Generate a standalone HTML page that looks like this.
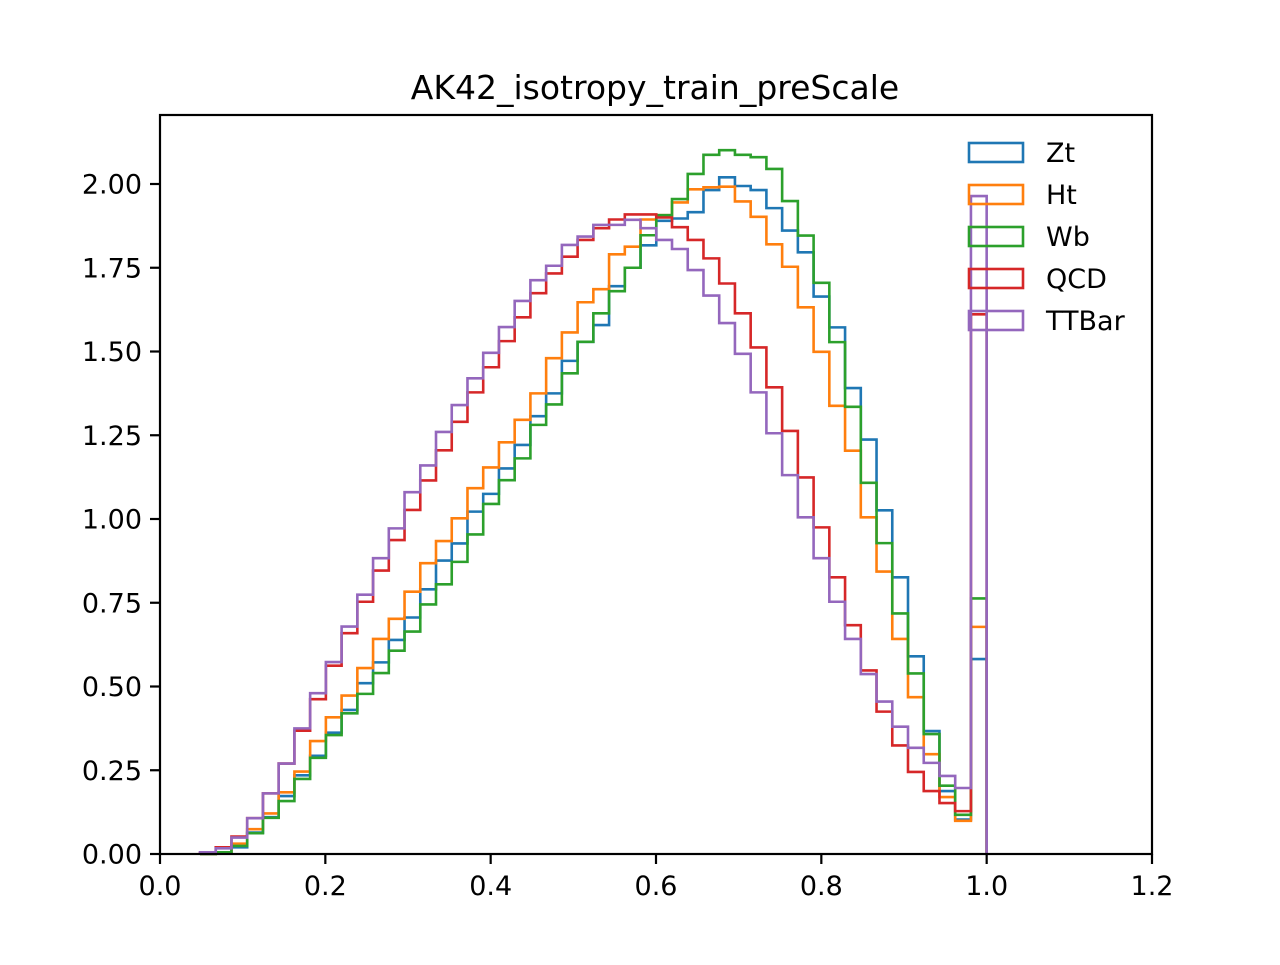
<!DOCTYPE html>
<html><head><meta charset="utf-8"><style>
body{margin:0;background:#fff;}
svg text{font-family:"DejaVu Sans","Liberation Sans",sans-serif;fill:#000;}
</style></head><body>
<svg id="chart" width="1280" height="960" viewBox="0 0 1280 960" xmlns="http://www.w3.org/2000/svg">
<rect x="0" y="0" width="1280" height="960" fill="#fff"/>
<text x="655" y="99" font-size="33" text-anchor="middle">AK42_isotropy_train_preScale</text>
<g id="plot"></g>
<g id="axes"></g>
<g id="legend"></g>
</svg>
<script>
const binLo = 0.0484, binHi = 1.0, nBins = 50;
const seriesNames = ["Zt","Ht","Wb","QCD","TTBar"];
const xTicks = [0.0,0.2,0.4,0.6,0.8,1.0,1.2];
const xTickLabels = ["0.0","0.2","0.4","0.6","0.8","1.0","1.2"];
const yTicks = [0,0.25,0.5,0.75,1.0,1.25,1.5,1.75,2.0];
const yTickLabels = ["0.00","0.25","0.50","0.75","1.00","1.25","1.50","1.75","2.00"];
const ztValues = [0,0.005,0.02,0.064,0.11,0.173,0.235,0.293,0.362,0.430,0.510,0.572,0.639,0.706,0.79,0.876,0.927,1.022,1.075,1.151,1.221,1.307,1.375,1.472,1.529,1.579,1.695,1.75,1.817,1.89,1.897,1.916,1.982,2.02,1.994,1.982,1.928,1.861,1.796,1.664,1.572,1.391,1.237,1.026,0.826,0.59,0.367,0.188,0.103,0.582];
const htValues = [0,0.005,0.031,0.074,0.121,0.184,0.246,0.337,0.408,0.473,0.555,0.642,0.702,0.783,0.868,0.934,1.002,1.092,1.154,1.229,1.296,1.375,1.48,1.557,1.647,1.686,1.79,1.813,1.894,1.907,1.945,1.984,1.99,1.992,1.948,1.902,1.82,1.753,1.632,1.499,1.338,1.204,1.005,0.843,0.642,0.468,0.298,0.17,0.099,0.678];
const wbValues = [0,0.005,0.024,0.062,0.108,0.158,0.224,0.287,0.355,0.420,0.478,0.540,0.607,0.664,0.745,0.805,0.872,0.954,1.045,1.116,1.181,1.281,1.342,1.435,1.529,1.614,1.68,1.75,1.847,1.907,1.955,2.03,2.087,2.101,2.087,2.08,2.045,1.949,1.846,1.705,1.528,1.335,1.108,0.928,0.718,0.539,0.358,0.204,0.117,0.763];
const qcdValues = [0.003,0.02,0.052,0.107,0.181,0.27,0.368,0.462,0.562,0.659,0.753,0.846,0.937,1.027,1.115,1.205,1.29,1.378,1.453,1.531,1.602,1.674,1.733,1.783,1.833,1.868,1.894,1.909,1.909,1.90,1.871,1.833,1.778,1.703,1.614,1.512,1.393,1.263,1.124,0.975,0.826,0.683,0.548,0.425,0.324,0.245,0.188,0.152,0.128,1.611];
const ttbarValues = [0.005,0.017,0.049,0.107,0.181,0.27,0.375,0.480,0.573,0.679,0.774,0.883,0.972,1.08,1.16,1.26,1.34,1.42,1.496,1.573,1.651,1.713,1.756,1.818,1.843,1.878,1.878,1.893,1.868,1.833,1.806,1.743,1.667,1.585,1.493,1.378,1.256,1.131,1.005,0.883,0.753,0.642,0.537,0.455,0.38,0.317,0.272,0.233,0.197,1.964];
const allSeries = [ztValues,htValues,wbValues,qcdValues,ttbarValues];
const colors = ["#1f77b4","#ff7f0e","#2ca02c","#d62728","#9467bd"];

const L=160,R=1152,T=115,B=854;
const xMin=0,xMax=1.2,yMin=0,yMax=(B-T)/335;
function xs(v){return L+(v-xMin)/(xMax-xMin)*(R-L);}
function ys(v){return B-(v-yMin)/(yMax-yMin)*(B-T);}
const NS="http://www.w3.org/2000/svg";
const plot=document.getElementById('plot');
const axes=document.getElementById('axes');
const legend=document.getElementById('legend');

allSeries.forEach((vals,si)=>{
  const w=(binHi-binLo)/nBins;
  let d="M"+xs(binLo)+","+ys(0);
  vals.forEach((v,i)=>{
    const x0=xs(binLo+i*w),x1=xs(binLo+(i+1)*w);
    d+=" L"+x0+","+ys(v)+" L"+x1+","+ys(v);
  });
  d+=" L"+xs(binHi)+","+ys(0);
  const p=document.createElementNS(NS,'path');
  p.setAttribute('d',d);
  p.setAttribute('fill','none');
  p.setAttribute('stroke',colors[si]);
  p.setAttribute('stroke-width','2.6');
  
  
  plot.appendChild(p);
});

const frame=document.createElementNS(NS,'rect');
frame.setAttribute('x',L);frame.setAttribute('y',T);
frame.setAttribute('width',R-L);frame.setAttribute('height',B-T);
frame.setAttribute('fill','none');frame.setAttribute('stroke','#000');frame.setAttribute('stroke-width','2.2');


axes.appendChild(frame);

xTicks.forEach((t,i)=>{
  const x=xs(t);
  const ln=document.createElementNS(NS,'line');
  ln.setAttribute('x1',x);ln.setAttribute('x2',x);ln.setAttribute('y1',B);ln.setAttribute('y2',B+10);
  ln.setAttribute('stroke','#000');ln.setAttribute('stroke-width','2.2');
  
  
  axes.appendChild(ln);
  const tx=document.createElementNS(NS,'text');
  tx.setAttribute('x',x);tx.setAttribute('y',B+41);tx.setAttribute('font-size','27');tx.setAttribute('text-anchor','middle');
  tx.textContent=xTickLabels[i];
  
  
  axes.appendChild(tx);
});
yTicks.forEach((t,i)=>{
  const y=ys(t);
  const ln=document.createElementNS(NS,'line');
  ln.setAttribute('x1',L-10);ln.setAttribute('x2',L);ln.setAttribute('y1',y);ln.setAttribute('y2',y);
  ln.setAttribute('stroke','#000');ln.setAttribute('stroke-width','2.2');
  
  
  axes.appendChild(ln);
  const tx=document.createElementNS(NS,'text');
  tx.setAttribute('x',L-18);tx.setAttribute('y',y+9.5);tx.setAttribute('font-size','27');tx.setAttribute('text-anchor','end');
  tx.textContent=yTickLabels[i];
  
  
  axes.appendChild(tx);
});

seriesNames.forEach((n,i)=>{
  const y=152+42*i;
  const r=document.createElementNS(NS,'rect');
  r.setAttribute('x',969);r.setAttribute('y',y-9);r.setAttribute('width',54);r.setAttribute('height',19);
  r.setAttribute('fill','none');r.setAttribute('stroke',colors[i]);r.setAttribute('stroke-width','2.6');
  
  
  legend.appendChild(r);
  const tx=document.createElementNS(NS,'text');
  tx.setAttribute('x',1046);tx.setAttribute('y',y+10);tx.setAttribute('font-size','27');
  tx.textContent=n;
  
  
  legend.appendChild(tx);
});
</script>
</body></html>
